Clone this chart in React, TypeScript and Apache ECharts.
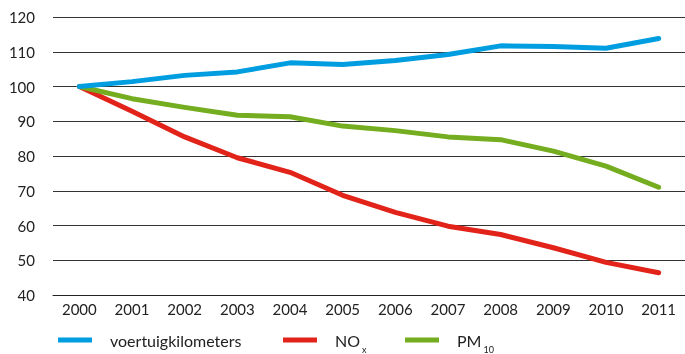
import React, { useEffect, useRef } from "react";
import * as echarts from "echarts";

const years = ["2000", "2001", "2002", "2003", "2004", "2005", "2006", "2007", "2008", "2009", "2010", "2011"];
const voertuigkilometers = [100, 101.4, 103.2, 104.2, 106.8, 106.3, 107.5, 109.2, 111.7, 111.5, 111.0, 113.8];
const nox = [100, 92.9, 85.5, 79.5, 75.3, 68.7, 63.8, 59.8, 57.4, 53.6, 49.4, 46.4];
const pm10 = [100, 96.5, 94.0, 91.7, 91.3, 88.6, 87.3, 85.5, 84.7, 81.4, 77.1, 71.0];
const seriesNames = ["voertuigkilometers", "NOx", "PM10"];
const colors = ["#009ee0", "#e2231a", "#74ad1f"];

const FONT = "Lato";

export default function App() {
  const ref = useRef<HTMLDivElement>(null);
  useEffect(() => {
    if (!ref.current) return;
    const chart = echarts.init(ref.current, null, { renderer: "svg" });
    const legendBase = {
      itemWidth: 34,
      itemHeight: 5,
      icon: "rect",
      top: 321,
      formatter: (name: string) =>
        name === "NOx" ? "NO{sub|x}" : name === "PM10" ? "PM{sub|10}" : name,
      textStyle: {
        fontFamily: FONT,
        fontSize: 16,
        lineHeight: 28,
        color: "#222",
        padding: [0, 0, 0, 13],
        rich: {
          sub: {
            fontFamily: FONT,
            fontSize: 9,
            lineHeight: 28,
            verticalAlign: "bottom",
            color: "#222",
            padding: [0, 0, 0, 2],
          },
        },
      },
    };
    chart.setOption({
      animation: false,
      color: colors,
      grid: { left: 53, right: -6, top: 17, bottom: 59 },
      legend: [
        { ...legendBase, left: 53, data: [seriesNames[0]] },
        { ...legendBase, left: 278, data: [seriesNames[1]] },
        { ...legendBase, left: 400, data: [seriesNames[2]] },
      ],
      xAxis: {
        type: "category",
        data: years,
        boundaryGap: true,
        axisLine: { lineStyle: { color: "#222", width: 1 } },
        axisTick: { alignWithLabel: true, inside: true, length: 6, lineStyle: { color: "#222" } },
        axisLabel: { fontFamily: FONT, fontSize: 15, color: "#222", margin: 6 },
      },
      yAxis: {
        type: "value",
        min: 40,
        max: 120,
        interval: 10,
        axisLine: { show: false },
        axisTick: { show: false },
        axisLabel: {
          fontFamily: FONT,
          fontSize: 15,
          color: "#222",
          margin: 18,
          padding: [0, 0, 4, 0],
        },
        splitLine: { lineStyle: { color: "#333", width: 1 } },
      },
      series: [
        {
          name: seriesNames[1],
          type: "line",
          data: nox,
          symbol: "none",
          lineStyle: { width: 5, cap: "round", join: "round", color: colors[1] },
          itemStyle: { color: colors[1] },
        },
        {
          name: seriesNames[2],
          type: "line",
          data: pm10,
          symbol: "none",
          lineStyle: { width: 5, cap: "round", join: "round", color: colors[2] },
          itemStyle: { color: colors[2] },
        },
        {
          name: seriesNames[0],
          type: "line",
          data: voertuigkilometers,
          symbol: "none",
          lineStyle: { width: 5, cap: "round", join: "round", color: colors[0] },
          itemStyle: { color: colors[0] },
        },
      ],
    });
    return () => chart.dispose();
  }, []);
  return (
    <div
      ref={ref}
      style={{ position: "fixed", left: 0, top: 0, width: 685, height: 354 }}
    />
  );
}
